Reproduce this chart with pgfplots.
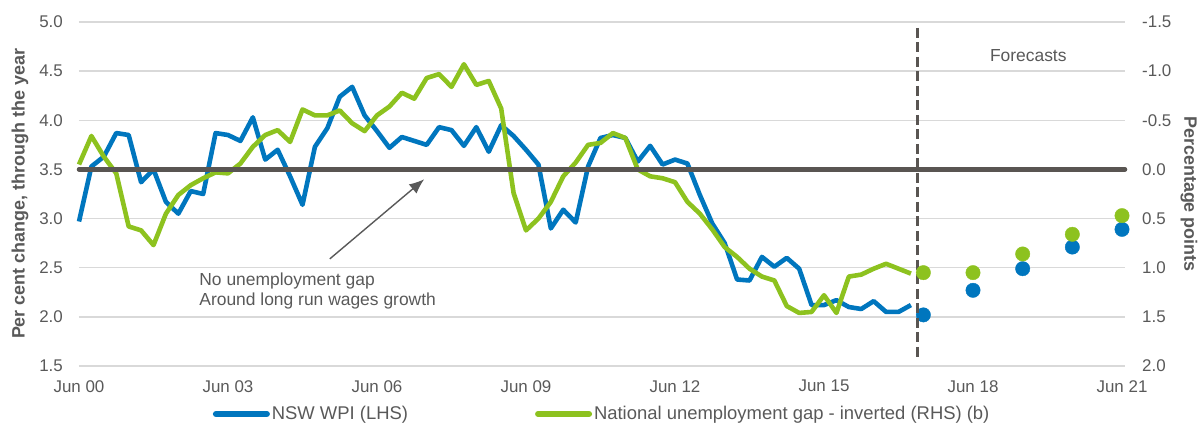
\documentclass[border=0pt]{standalone}
\usepackage{fontspec}
\setmainfont{Liberation Sans}
\usepackage{pgfplots}
\pgfplotsset{compat=1.18}
\usetikzlibrary{arrows.meta}
\definecolor{wpiblue}{HTML}{0076BE}
\definecolor{gapgreen}{HTML}{8DC21F}
\definecolor{darkgrey}{HTML}{595552}
\definecolor{txtgrey}{HTML}{595959}
\definecolor{gridgrey}{HTML}{D9D9D9}
\newcommand\tickfont{\fontsize{17}{19}\selectfont}
\newcommand\legfont{\fontsize{18.5}{20}\selectfont}
\newcommand\labfont{\fontsize{18}{20}\selectfont\bfseries}
\newcommand\annfont{\fontsize{17.5}{20}\selectfont}

\pgfplotstableread{
q v
0 2.97
1 3.53
2 3.63
3 3.87
4 3.85
5 3.37
6 3.50
7 3.17
8 3.05
9 3.28
10 3.25
11 3.87
12 3.85
13 3.79
14 4.03
15 3.60
16 3.70
17 3.43
18 3.14
19 3.73
20 3.92
21 4.24
22 4.34
23 4.05
24 3.89
25 3.72
26 3.83
27 3.79
28 3.75
29 3.93
30 3.90
31 3.74
32 3.93
33 3.68
34 3.95
35 3.84
36 3.70
37 3.55
38 2.90
39 3.09
40 2.96
41 3.53
42 3.82
43 3.85
44 3.82
45 3.58
46 3.74
47 3.55
48 3.60
49 3.56
50 3.24
51 2.95
52 2.75
53 2.38
54 2.37
55 2.61
56 2.51
57 2.60
58 2.49
59 2.12
60 2.12
61 2.17
62 2.10
63 2.08
64 2.16
65 2.05
66 2.05
67 2.12
}\wpi

\pgfplotstableread{
q v
68 2.02
72 2.27
76 2.49
80 2.71
84 2.89
}\wpifc

\pgfplotstableread{
q v
0 -0.05
1 -0.34
2 -0.13
3 0.04
4 0.58
5 0.62
6 0.77
7 0.45
8 0.26
9 0.16
10 0.09
11 0.03
12 0.04
13 -0.06
14 -0.23
15 -0.35
16 -0.40
17 -0.28
18 -0.61
19 -0.55
20 -0.55
21 -0.60
22 -0.47
23 -0.39
24 -0.55
25 -0.64
26 -0.78
27 -0.72
28 -0.93
29 -0.97
30 -0.84
31 -1.07
32 -0.86
33 -0.90
34 -0.62
35 0.24
36 0.62
37 0.50
38 0.33
39 0.07
40 -0.07
41 -0.25
42 -0.27
43 -0.37
44 -0.32
45 0.00
46 0.07
47 0.09
48 0.13
49 0.33
50 0.45
51 0.61
52 0.79
53 0.89
54 1.01
55 1.09
56 1.13
57 1.39
58 1.46
59 1.45
60 1.28
61 1.46
62 1.09
63 1.07
64 1.01
65 0.96
66 1.01
67 1.06
}\gap

\pgfplotstableread{
q v
68 1.05
72 1.05
76 0.86
80 0.66
84 0.47
}\gapfc

\pgfplotsset{
  common/.style={
    scale only axis, width=1046bp, height=344bp,
    xmin=0, xmax=84.24,
    axis line style={draw=none},
    major tick length=0pt,
    clip=false,
    /pgf/number format/fixed,
    /pgf/number format/fixed zerofill,
    /pgf/number format/precision=1,
    /pgf/number format/assume math mode=true,
    legend style={draw=none, fill=none, inner sep=0pt, outer sep=0pt, font=\legfont, text=txtgrey, anchor=west},
    legend image code/.code={\draw[##1, line width=6bp, line cap=round] (2bp,0bp) -- (53bp,0bp);},
  }
}

\begin{document}
\begin{tikzpicture}
\path[use as bounding box] (-79bp,-57bp) rectangle (1119bp,366bp);
\begin{axis}[common,
  ymin=1.5, ymax=5.0, ytick={1.5,2,...,5},
  ymajorgrids, grid style={gridgrey, line width=1.3bp},
  xtick={0,12,...,84},
  xticklabels={Jun 00,Jun 03,Jun 06,Jun 09,Jun 12,Jun 15,Jun 18,Jun 21},
  xticklabel style={anchor=north, inner sep=0pt, yshift=-14bp, font=\tickfont, text=txtgrey},
  yticklabel style={anchor=east, inner sep=0pt, xshift=-16bp, font=\tickfont, text=txtgrey},
  ylabel={Per cent change, through the year},
  ylabel style={at={(axis description cs:-0.0564,0.5)}, anchor=center, font=\labfont, text=txtgrey},
  legend style={at={(axis description cs:0.128,-0.1395)}},
]
\addplot[wpiblue, line width=4.6bp, line join=round] table[x=q, y=v] {\wpi};
\addlegendentry{NSW WPI (LHS)}
\addplot[only marks, mark=*, mark size=7.2bp, wpiblue, forget plot] table[x=q, y=v] {\wpifc};
\node[anchor=west, align=left, inner sep=0pt, font=\annfont, text=txtgrey] at (axis cs:9.68,2.26)
  {No unemployment gap\\Around long run wages growth};
\draw[txtgrey, line width=1.4bp, -{Latex[length=15bp, width=12bp]}] (axis cs:20.2,2.59) -- (axis cs:27.8,3.40);
\node[font=\annfont, text=txtgrey] at (axis cs:76.45,4.657) {Forecasts};
\end{axis}
\begin{axis}[common,
  ymin=-1.5, ymax=2.0, y dir=reverse,
  axis y line*=right, axis x line=none,
  ytick={-1.5,-1,...,2},
  yticklabel style={anchor=west, inner sep=0pt, xshift=17bp, font=\tickfont, text=txtgrey},
  ylabel={Percentage points},
  ylabel style={at={(axis description cs:1.0612,0.5)}, anchor=center, rotate=180, font=\labfont, text=txtgrey},
  legend style={at={(axis description cs:0.436,-0.1395)}},
]
\addplot[gapgreen, line width=4.6bp, line join=round] table[x=q, y=v] {\gap};
\addlegendentry{National unemployment gap - inverted (RHS) (b)}
\addplot[darkgrey, line width=4.5bp, line cap=round, forget plot] coordinates {(0,0) (84.24,0)};
\addplot[darkgrey, line width=3.2bp, dash pattern=on 10bp off 4.5bp, forget plot] coordinates {(67.5,-1.44) (67.5,1.94)};
\addplot[only marks, mark=*, mark size=7.2bp, gapgreen, forget plot] table[x=q, y=v] {\gapfc};
\end{axis}
\end{tikzpicture}
\end{document}
